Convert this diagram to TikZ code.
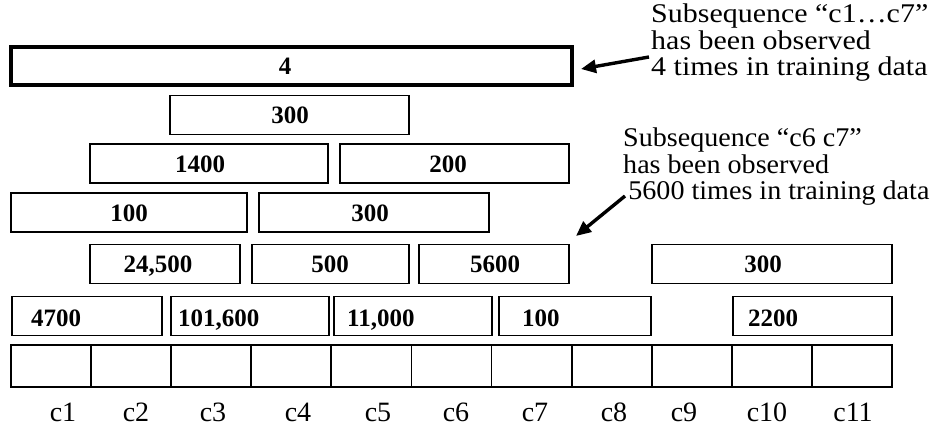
\documentclass[tikz,border=0pt]{standalone}
\usepackage{fontspec}
\setmainfont{Liberation Serif}
\usetikzlibrary{arrows.meta}
\newcommand{\notelines}[2]{\scalebox{#1}[1]{\begin{tabular}{@{}l@{}}#2\end{tabular}}}
\begin{document}
\begin{tikzpicture}[x=1pt,y=-1pt,
  box/.style={draw,line width=1.9pt,inner sep=0pt,minimum height=39pt},
  topbox/.style={draw,line width=4pt,inner sep=0pt,minimum height=38pt},
  cellbox/.style={draw,line width=1.9pt,inner sep=0pt,minimum height=42pt,minimum width=80.09pt},
  num/.style={inner sep=0pt,font=\fontsize{25}{27}\selectfont\bfseries},
  clab/.style={inner sep=0pt,font=\fontsize{28}{30}\selectfont},
  note/.style={inner sep=0pt,font=\fontsize{27}{25}\selectfont},
  pointer/.style={line width=3.4pt,-{Triangle[length=15pt,width=13pt]}}]
\useasboundingbox (0,0) rectangle (936,434);
% row 0
\node[topbox,minimum width=561pt] (r0) at (291.5,66) {};
\node[num,anchor=base] (t0) at (285,74.5) {4};
% row 1
\node[box,minimum width=239pt] (r1) at (289.5,115) {};
\node[num,anchor=base] (t1) at (290,123.5) {300};
% row 2
\node[box,minimum width=238pt] (r2a) at (209,163.5) {};
\node[box,minimum width=229pt] (r2b) at (454.5,163.5) {};
\node[num,anchor=base] at (200,172) {1400};
\node[num,anchor=base] at (448,172) {200};
% row 3
\node[box,minimum width=236pt] (r3a) at (129,212.5) {};
\node[box,minimum width=230pt] (r3b) at (374,212.5) {};
\node[num,anchor=base] at (129,221) {100};
\node[num,anchor=base] at (370,221) {300};
% row 4
\node[box,minimum width=150pt] (r4a) at (165,264) {};
\node[box,minimum width=157pt] (r4b) at (330.5,264) {};
\node[box,minimum width=150pt] (r4c) at (494,264) {};
\node[box,minimum width=240pt] (r4d) at (772,264) {};
\node[num,anchor=base] at (158,272.5) {24,500};
\node[num,anchor=base] at (330,272.5) {500};
\node[num,anchor=base] at (495,272.5) {5600};
\node[num,anchor=base] at (763,272.5) {300};
% row 5
\node[box,minimum width=150pt] (r5a) at (87,316) {};
\node[box,minimum width=158pt] (r5b) at (250,316) {};
\node[box,minimum width=158pt] (r5c) at (413,316) {};
\node[box,minimum width=152pt] (r5d) at (575,316) {};
\node[box,minimum width=159pt] (r5e) at (812.5,316) {};
\node[num,anchor=base west] at (31,326.5) {4700};
\node[num,anchor=base west] at (178,326.5) {101,600};
\node[num,anchor=base west] at (347,326.5) {11,000};
\node[num,anchor=base west] at (522,326.5) {100};
\node[num,anchor=base west] at (748,326.5) {2200};
% cells
\foreach \i in {1,...,11} {
  \node[cellbox] (cell\i) at ({11+80.09*(\i-0.5)},366) {};
}
% labels
\foreach \i/\x in {1/63,2/136,3/213,4/298,5/378,6/456,7/535,8/614,9/684,10/767,11/853} {
  \node[clab,anchor=base] (lab\i) at (\x,421) {c\i};
}
% annotations
\node[note,anchor=north west] (n1) at (651,4) {\notelines{1.11}{Subsequence “c1…c7”\\has been observed\\4 times in training data}};
\node[note,anchor=north west] (n2) at (623,128) {\notelines{1.04}{Subsequence “c6 c7”\\has been observed\\\hspace{5pt}5600 times in training data}};
\coordinate (a1s) at (649,57);
\coordinate (a1e) at (581,69);
\coordinate (a2s) at (625,196);
\coordinate (a2e) at (576,236);
\draw[pointer] (a1s) -- (a1e);
\draw[pointer] (a2s) -- (a2e);
\end{tikzpicture}
\end{document}
